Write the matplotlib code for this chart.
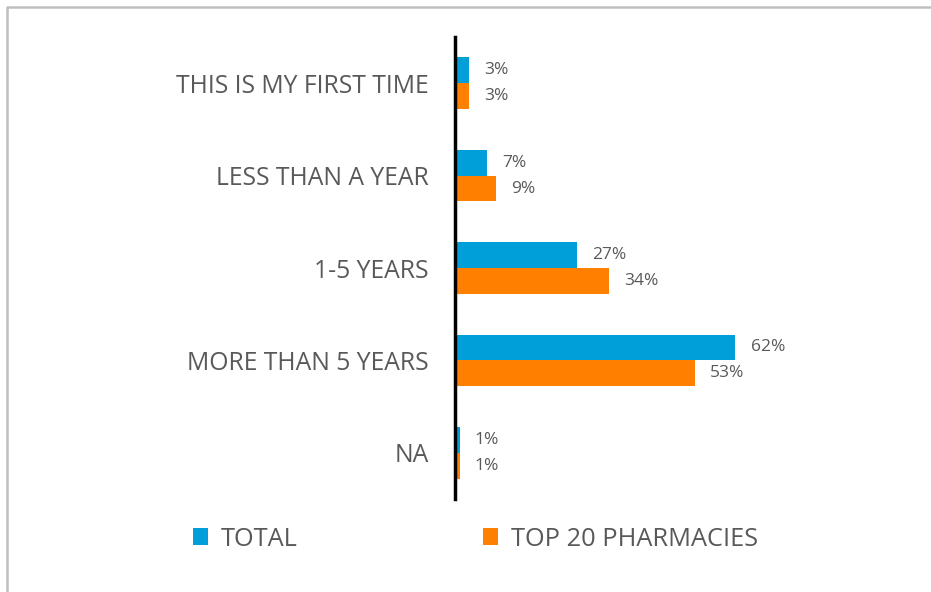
import matplotlib.pyplot as plt
import numpy as np

# survey answers, top to bottom
categories = ['THIS IS MY FIRST TIME', 'LESS THAN A YEAR', '1-5 YEARS',
              'MORE THAN 5 YEARS', 'NA']
total = [3, 7, 27, 62, 1]
top20 = [3, 9, 34, 53, 1]
series_names = ['TOTAL', 'TOP 20 PHARMACIES']

blue = '#009FDA'
orange = '#FF8000'
gray = '#595959'

plt.rcParams['font.family'] = ['Open Sans', 'DejaVu Sans']

fig = plt.figure(figsize=(9.31, 5.92), dpi=100)
ax = fig.add_axes([455 / 931, (592 - 499) / 592, 452 / 931, 462 / 592])

y = np.arange(len(categories))
h = 0.28
b1 = ax.barh(y - h / 2, total, height=h, color=blue, label=series_names[0])
b2 = ax.barh(y + h / 2, top20, height=h, color=orange, label=series_names[1])

for bars, vals in ((b1, total), (b2, top20)):
    for bar, v in zip(bars, vals):
        ax.annotate(f'{v}%', (bar.get_width(), bar.get_y() + bar.get_height() / 2),
                    xytext=(11, 0), textcoords='offset points',
                    ha='left', va='center', fontsize=12.5, color=gray)

ax.set_xlim(0, 100)
ax.set_ylim(len(categories) - 0.5, -0.5)
ax.set_yticks(y)
ax.set_yticklabels(categories, fontsize=17.8, color=gray)
ax.tick_params(axis='y', length=0, pad=19)
ax.set_xticks([])
for s in ('top', 'right', 'bottom'):
    ax.spines[s].set_visible(False)
ax.spines['left'].set_linewidth(2.5)
ax.spines['left'].set_color('black')

# legend row under the chart
fig.legend(handles=[b1, b2], labels=series_names, loc='center left',
           bbox_to_anchor=(180 / 931, 53 / 592), ncol=2, frameon=False,
           borderpad=0, fontsize=18.3, labelcolor=gray, handlelength=0.6,
           handleheight=0.6, handletextpad=0.5, columnspacing=7.3)

# light frame along the top and left edges
fig.add_artist(plt.Line2D([6.5 / 931, 6.5 / 931, 1], [0, 1 - 6.5 / 592, 1 - 6.5 / 592],
                          transform=fig.transFigure, color='#BFBFBF', linewidth=1.8))

fig.savefig('out.png', dpi=100)
